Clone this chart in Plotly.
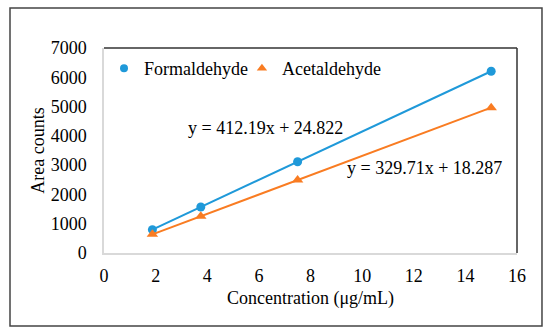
import plotly.graph_objects as go

conc = [1.875, 3.75, 7.5, 15]
formaldehyde = [798, 1571, 3116, 6207]
acetaldehyde = [636, 1255, 2491, 4964]
eq_form = "y = 412.19x + 24.822"
eq_acet = "y = 329.71x + 18.287"
x_ticks = [0, 2, 4, 6, 8, 10, 12, 14, 16]
y_ticks = [0, 1000, 2000, 3000, 4000, 5000, 6000, 7000]

BLUE = "#1f99d9"
ORANGE = "#f97c22"
FONT = "Liberation Serif"
FS = 18

fig = go.Figure()
fig.add_trace(go.Scatter(x=conc, y=formaldehyde, name="Formaldehyde", mode="lines+markers",
                         line=dict(color=BLUE, width=2), showlegend=False,
                         marker=dict(symbol="circle", size=9, color=BLUE)))
fig.add_trace(go.Scatter(x=conc, y=acetaldehyde, name="Acetaldehyde", mode="lines+markers",
                         line=dict(color=ORANGE, width=2), showlegend=False,
                         marker=dict(symbol="triangle-up", size=10, color=ORANGE)))
# legend entries (markers only)
fig.add_trace(go.Scatter(x=[None], y=[None], name="Formaldehyde", mode="markers",
                         marker=dict(symbol="circle", size=8, color=BLUE), legend="legend"))
fig.add_trace(go.Scatter(x=[None], y=[None], name="Acetaldehyde", mode="markers",
                         marker=dict(symbol="triangle-up", size=9, color=ORANGE), legend="legend2"))

fig.add_annotation(x=6.24, y=4268, xref="x", yref="y", text=eq_form, showarrow=False,
                   font=dict(family=FONT, size=FS, color="#000"))
fig.add_annotation(x=12.4, y=2902, xref="x", yref="y", text=eq_acet, showarrow=False,
                   font=dict(family=FONT, size=FS, color="#000"))

# outer chart border
fig.add_shape(type="rect", xref="paper", yref="paper", x0=-0.2276, x1=1.0605, y0=-0.356, y1=1.195,
              line=dict(color="#444", width=1.5), layer="below")
# plot area top and right border
fig.add_shape(type="line", xref="paper", yref="paper", x0=0, x1=1, y0=1, y1=1,
              line=dict(color="#333", width=1.5))
fig.add_shape(type="line", xref="paper", yref="paper", x0=1, x1=1, y0=0, y1=1,
              line=dict(color="#333", width=1.5))

leg_common = dict(orientation="h", y=0.9, xanchor="left", yanchor="middle",
                  bgcolor="rgba(0,0,0,0)", font=dict(family=FONT, size=FS, color="#000"),
                  itemwidth=30)

fig.update_layout(
    width=550, height=334,
    margin=dict(l=104, r=33, t=48, b=81),
    paper_bgcolor="white", plot_bgcolor="white",
    font=dict(family=FONT, size=FS, color="#000"),
    showlegend=True,
    legend=dict(x=0.0, **leg_common),
    legend2=dict(x=0.334, **leg_common),
    xaxis=dict(range=[0, 16], tickvals=x_ticks, showgrid=False, zeroline=False,
               showline=True, linecolor="#d9d9d9", linewidth=1.5,
               ticks="outside", ticklen=6, tickcolor="rgba(0,0,0,0)",
               title=dict(text="Concentration (μg/mL)", font=dict(family=FONT, size=FS), standoff=6),
               tickfont=dict(family=FONT, size=FS, color="#000")),
    yaxis=dict(range=[0, 7000], tickvals=y_ticks, showgrid=False, zeroline=False,
               showline=True, linecolor="#d9d9d9", linewidth=1.5,
               ticks="outside", ticklen=12, tickcolor="rgba(0,0,0,0)",
               title=dict(text="Area counts", font=dict(family=FONT, size=FS), standoff=1),
               tickfont=dict(family=FONT, size=FS, color="#000")),
)

fig.write_html("out.html", config={"displayModeBar": False},
               post_script="document.body.style.margin='0';document.body.style.padding='0';")
